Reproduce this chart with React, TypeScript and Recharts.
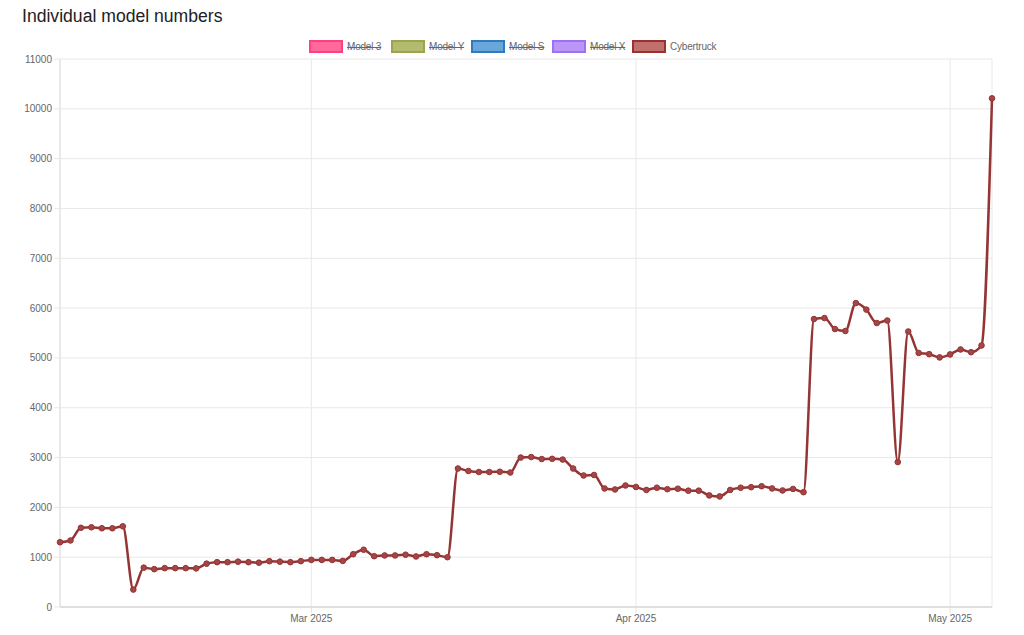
import React from 'react';
import { LineChart, Line, XAxis, YAxis, CartesianGrid } from 'recharts';

// daily dates shown on the x axis
const febDates = [
  '2025-02-05', '2025-02-06', '2025-02-07', '2025-02-08', '2025-02-09', '2025-02-10',
  '2025-02-11', '2025-02-12', '2025-02-13', '2025-02-14', '2025-02-15', '2025-02-16',
  '2025-02-17', '2025-02-18', '2025-02-19', '2025-02-20', '2025-02-21', '2025-02-22',
  '2025-02-23', '2025-02-24', '2025-02-25', '2025-02-26', '2025-02-27', '2025-02-28',
];
const marDates = [
  '2025-03-01', '2025-03-02', '2025-03-03', '2025-03-04', '2025-03-05', '2025-03-06',
  '2025-03-07', '2025-03-08', '2025-03-09', '2025-03-10', '2025-03-11', '2025-03-12',
  '2025-03-13', '2025-03-14', '2025-03-15', '2025-03-16', '2025-03-17', '2025-03-18',
  '2025-03-19', '2025-03-20', '2025-03-21', '2025-03-22', '2025-03-23', '2025-03-24',
  '2025-03-25', '2025-03-26', '2025-03-27', '2025-03-28', '2025-03-29', '2025-03-30',
  '2025-03-31',
];
const aprDates = [
  '2025-04-01', '2025-04-02', '2025-04-03', '2025-04-04', '2025-04-05', '2025-04-06',
  '2025-04-07', '2025-04-08', '2025-04-09', '2025-04-10', '2025-04-11', '2025-04-12',
  '2025-04-13', '2025-04-14', '2025-04-15', '2025-04-16', '2025-04-17', '2025-04-18',
  '2025-04-19', '2025-04-20', '2025-04-21', '2025-04-22', '2025-04-23', '2025-04-24',
  '2025-04-25', '2025-04-26', '2025-04-27', '2025-04-28', '2025-04-29', '2025-04-30',
];
const mayDates = ['2025-05-01', '2025-05-02', '2025-05-03', '2025-05-04', '2025-05-05'];

// Cybertruck counts
const febValues = [
  1300, 1335, 1590, 1600, 1580, 1580, 1620, 350, 790, 760, 780, 780,
  780, 775, 870, 900, 900, 910, 900, 890, 920, 910, 900, 920,
];
const marValues = [
  945, 945, 945, 925, 1060, 1150, 1020, 1035, 1035, 1050, 1015, 1060,
  1040, 1000, 2780, 2730, 2710, 2710, 2715, 2700, 3000, 3010, 2970, 2975,
  2960, 2780, 2640, 2650, 2380, 2360, 2440,
];
const aprValues = [
  2410, 2350, 2395, 2365, 2375, 2335, 2335, 2240, 2220, 2350, 2395, 2405,
  2425, 2380, 2340, 2370, 2305, 5780, 5800, 5580, 5540, 6100, 5970, 5700,
  5750, 2910, 5530, 5100, 5075, 5010,
];
const mayValues = [5070, 5170, 5115, 5250, 10210];

const xTickDates = ['2025-03-01', '2025-04-01', '2025-05-01'];
const yTicks = [0, 1000, 2000, 3000, 4000, 5000, 6000, 7000, 8000, 9000, 10000, 11000];
const monthNames = ['Jan', 'Feb', 'Mar', 'Apr', 'May', 'Jun', 'Jul', 'Aug', 'Sep', 'Oct', 'Nov', 'Dec'];

const legendItems = [
  { name: 'Model 3', fill: '#ff6a9a', stroke: '#ff3f80', hidden: true },
  { name: 'Model Y', fill: '#b3bb70', stroke: '#9ca44c', hidden: true },
  { name: 'Model S', fill: '#69a6dc', stroke: '#2f7cbc', hidden: true },
  { name: 'Model X', fill: '#b996f7', stroke: '#a070f2', hidden: true },
  { name: 'Cybertruck', fill: '#c1716d', stroke: '#9b3232', hidden: false },
];
const legendLeft = [309, 391, 471, 552, 632];

const toTime = (d: string) => Date.parse(d + 'T00:00:00Z');

const allDates = [...febDates, ...marDates, ...aprDates, ...mayDates];
const allValues = [...febValues, ...marValues, ...aprValues, ...mayValues];
const data = allDates.map((d, i) => ({ t: toTime(d), cybertruck: allValues[i] }));
const xTicks = xTickDates.map(toTime);

const fmtMonth = (t: number) => {
  const d = new Date(t);
  return `${monthNames[d.getUTCMonth()]} ${d.getUTCFullYear()}`;
};

const font = '"Liberation Sans", Arial, Helvetica, sans-serif';
const lineColor = '#943434';

export default function App() {
  return (
    <div
      style={{
        position: 'absolute',
        left: 0,
        top: 0,
        width: 1024,
        height: 635,
        background: '#fff',
        fontFamily: font,
        overflow: 'hidden',
      }}
    >
      <div style={{ position: 'absolute', left: 22, top: 6, fontSize: 17.6, color: '#222' }}>
        Individual model numbers
      </div>

      {legendItems.map((item, i) => (
        <div
          key={item.name}
          style={{ position: 'absolute', left: legendLeft[i], top: 40, display: 'flex', alignItems: 'center' }}
        >
          <div
            style={{
              width: 30,
              height: 9,
              background: item.fill,
              border: `2px solid ${item.stroke}`,
              marginRight: 4,
            }}
          />
          <span
            style={{
              fontSize: 10,
              color: '#666',
              letterSpacing: -0.2,
              textDecoration: item.hidden ? 'line-through' : 'none',
            }}
          >
            {item.name}
          </span>
        </div>
      ))}

      <div style={{ position: 'absolute', left: 0, top: 0 }}>
        <LineChart width={1024} height={635} data={data} margin={{ top: 59, right: 32, bottom: 0, left: 0 }}>
          <CartesianGrid stroke="#e8e8e8" horizontal vertical />
          <XAxis
            dataKey="t"
            type="number"
            scale="time"
            domain={[data[0].t, data[data.length - 1].t]}
            ticks={xTicks}
            tickFormatter={fmtMonth}
            height={28}
            tickSize={6}
            tickMargin={2}
            axisLine={{ stroke: '#cccccc' }}
            tickLine={{ stroke: '#e0e0e0' }}
            tick={{ fontSize: 10, fill: '#666', fontFamily: font }}
          />
          <YAxis
            type="number"
            domain={[0, 11000]}
            ticks={yTicks}
            interval={0}
            width={60}
            tickSize={6}
            tickMargin={2}
            axisLine={{ stroke: '#e0e0e0' }}
            tickLine={{ stroke: '#e8e8e8' }}
            tick={{ fontSize: 10, fill: '#666', fontFamily: font }}
          />
          <Line
            type="monotone"
            dataKey="cybertruck"
            stroke={lineColor}
            strokeWidth={2.5}
            dot={{ r: 2.8, fill: '#a54545', stroke: lineColor, strokeWidth: 1 }}
            activeDot={false}
            isAnimationActive={false}
          />
        </LineChart>
      </div>
    </div>
  );
}
